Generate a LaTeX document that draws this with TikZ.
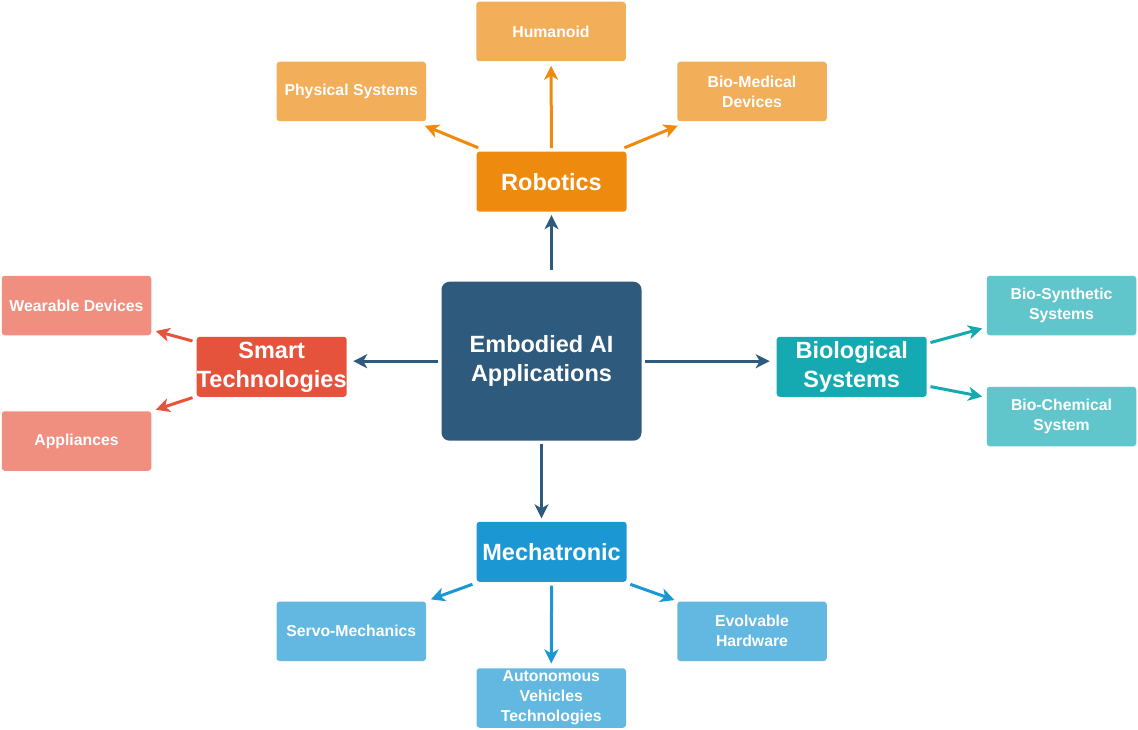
\documentclass[tikz,border=0pt]{standalone}
\usepackage{fontspec}
\setmainfont{Liberation Sans}
\usetikzlibrary{arrows.meta,positioning}
\definecolor{appColor}{HTML}{2E5B7D}
\definecolor{robColor}{HTML}{EE8A0E}
\definecolor{robLight}{HTML}{F3AE5A}
\definecolor{smColor}{HTML}{E6533D}
\definecolor{smLight}{HTML}{F08E80}
\definecolor{bioColor}{HTML}{15A9B1}
\definecolor{bioLight}{HTML}{61C6CC}
\definecolor{mechColor}{HTML}{1B97D3}
\definecolor{mechLight}{HTML}{62B8E1}
\tikzset{root state/.style={fill=appColor, text=white, align=center, inner sep=0pt, rounded corners=8pt,
		minimum width=200pt, minimum height=159pt, font=\bfseries\fontsize{23.5}{29}\selectfont}}
\tikzset{topic state/.style={fill=#1, text=white, align=center, inner sep=0pt, rounded corners=3pt,
		minimum width=150pt, minimum height=60pt, font=\bfseries\fontsize{23.5}{29}\selectfont}}
\tikzset{leaf state/.style={fill=#1, text=white, align=center, inner sep=0pt, rounded corners=3pt,
		minimum width=149.5pt, minimum height=59.5pt, font=\bfseries\fontsize{15.8}{20}\selectfont}}

\begin{document}
\begin{tikzpicture}[x=1pt, y=-1pt, line width=3pt,
					-{Stealth[length=14pt, width=14pt, inset=4pt]}]
					\useasboundingbox (0,0) rectangle (1138,730);
					\node[root state] at (541.5,361.2) (app) {Embodied AI\\Applications};
					% robotics
					\node[topic state=robColor] at (551.5,181.7) (rob) {Robotics};
					\node[leaf state=robLight] at (551,31.5) (hum) {Humanoid};
					\node[leaf state=robLight] at (351.3,91.5) (phys) {Physical Systems};
					\node[leaf state=robLight] at (752,91.5) (biomed) {Bio-Medical\\Devices};
					% smart technologies
					\node[topic state=smColor] at (271.7,366.8) (smart) {Smart\\Technologies};
					\node[leaf state=smLight] at (76.5,305.5) (wear) {Wearable Devices};
					\node[leaf state=smLight] at (76.5,441) (appl) {Appliances};
					% biological systems
					\node[topic state=bioColor] at (851.7,366.8) (bio) {Biological\\Systems};
					\node[leaf state=bioLight] at (1061.5,305.5) (biosyn) {Bio-Synthetic\\Systems};
					\node[leaf state=bioLight] at (1061.5,416.5) (biochem) {Bio-Chemical\\System};
					% mechatronic
					\node[topic state=mechColor] at (551.6,551.8) (mech) {Mechatronic};
					\node[leaf state=mechLight] at (351.3,631.3) (servo) {Servo-Mechanics};
					\node[leaf state=mechLight] at (551.3,698) (auto) {Autonomous\\Vehicles\\Technologies};
					\node[leaf state=mechLight] at (752,631.3) (evolv) {Evolvable\\Hardware};

					\path ([yshift=10.5pt]app.north -| rob.south) edge[appColor, shorten >=2pt] (rob.south);
					\path (app.west) edge[appColor, shorten <=2.5pt, shorten >=5pt] (app.west -| smart.east);
					\path (app.east) edge[appColor, shorten <=1.5pt, shorten >=5.5pt] (app.east -| bio.west);
					\path (app.south) edge[appColor, shorten <=2pt, shorten >=2pt] (app.south |- mech.north);

					\path (rob.north) edge[robColor, shorten <=2pt, shorten >=3pt] (hum.south);
					\path ([xshift=3.3pt,yshift=2.4pt]rob.north west) edge[robColor] ([xshift=-2.7pt,yshift=-3pt]phys.south east);
					\path ([xshift=-3.6pt,yshift=2.4pt]rob.north east) edge[robColor] ([xshift=2pt,yshift=-3pt]biomed.south west);

					\path ([xshift=-2.7pt,yshift=-5.7pt]smart.north west) edge[smColor] ([xshift=3pt,yshift=5.7pt]wear.south east);
					\path ([xshift=-2.7pt,yshift=0.7pt]smart.south west) edge[smColor] ([xshift=3pt]appl.north east);

					\path ([xshift=2.3pt,yshift=-7.3pt]bio.north east) edge[bioColor] ([xshift=-3pt,yshift=8.3pt]biosyn.south west);
					\path ([xshift=2.3pt,yshift=11.7pt]bio.south east) edge[bioColor] ([xshift=-3pt,yshift=-11.3pt]biochem.north west);

					\path ([xshift=-2.7pt,yshift=-1pt]mech.south west) edge[mechColor] ([xshift=3.3pt,yshift=0.7pt]servo.north east);
					\path (mech.south) edge[mechColor, shorten <=2.3pt, shorten >=3.3pt] (auto.north);
					\path ([xshift=2.2pt,yshift=-1pt]mech.south east) edge[mechColor] ([xshift=-1.3pt]evolv.north west);
				\end{tikzpicture}
\end{document}
